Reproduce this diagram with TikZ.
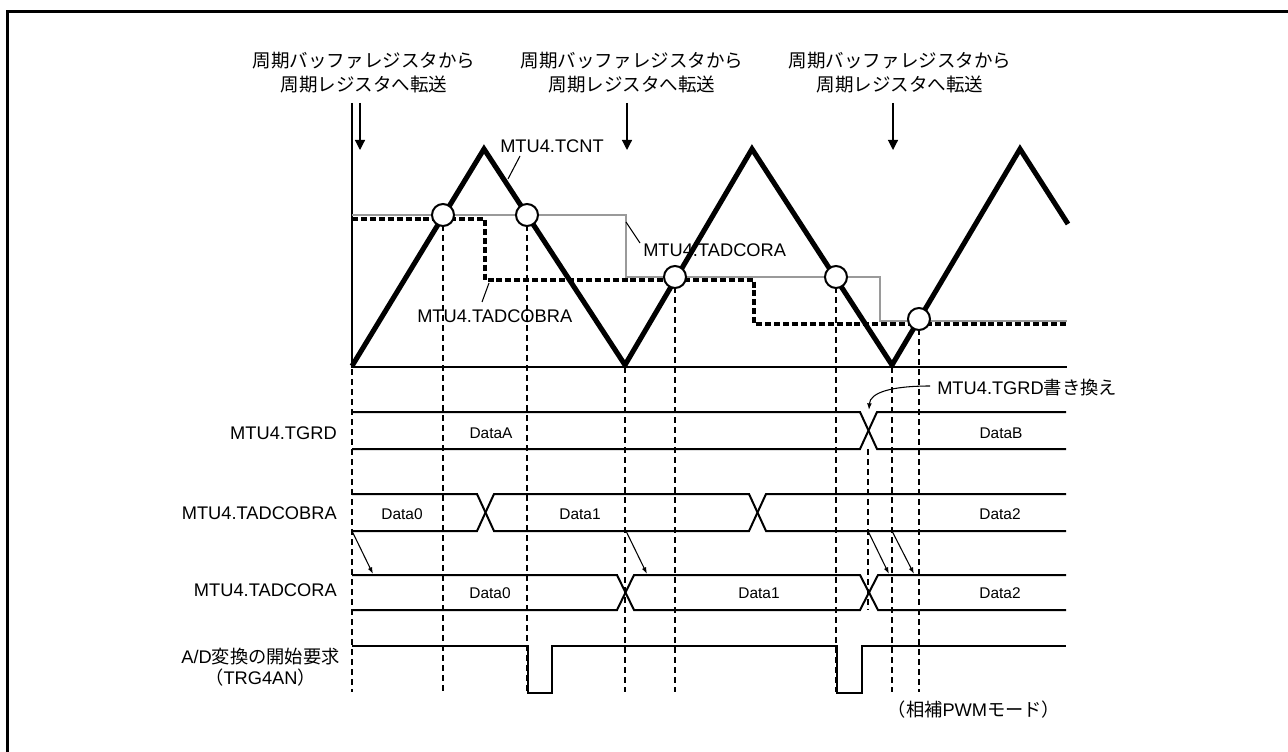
\documentclass[tikz,border=0pt]{standalone}
\usepackage{fontspec}
\setmainfont{Liberation Sans}
\newfontfamily\jp{Noto Sans CJK JP}
\usetikzlibrary{arrows.meta}
\definecolor{lgray}{HTML}{9A9A9A}
\begin{document}
\begin{tikzpicture}[x=0.75pt,y=-0.75pt,
  frameline/.style={line width=2.25pt},
  thinline/.style={line width=0.9pt},
  sig/.style={line width=1.5pt},
  wave/.style={line width=3.8pt,line join=miter},
  grayline/.style={line width=1.6pt,draw=lgray},
  dotline/.style={line width=2.6pt,dash pattern=on 4.5pt off 2.2pt},
  evt/.style={line width=0.9pt,dash pattern=on 4.5pt off 3pt},
  circ/.style={circle,draw,fill=white,line width=1.5pt,minimum size=16.5pt,inner sep=0pt},
  lbl/.style={inner sep=0pt,font=\fontsize{13.7}{16}\selectfont},
  dlbl/.style={inner sep=0pt,font=\fontsize{11.6}{14}\selectfont},
  captext/.style={inner sep=0pt,align=center,font=\jp\fontsize{13.9}{18}\selectfont},
  bigarrow/.style={thinline,-{Triangle[length=7.5pt,width=7.5pt]}},
  smallarrow/.style={line width=0.8pt,-{Latex[length=5pt,width=3.5pt]}},
  leader/.style={line width=0.8pt}]
\useasboundingbox (0,0) rectangle (1288,752);
% frame
\draw[frameline] (7.5,752) -- (7.5,11.5) -- (1288,11.5);

% captions
\node[captext] (c1) at (364,73) {周期バッファレジスタから\\周期レジスタへ転送};
\node[captext] (c2) at (632,73) {周期バッファレジスタから\\周期レジスタへ転送};
\node[captext] (c3) at (900,73) {周期バッファレジスタから\\周期レジスタへ転送};
\coordinate (a1s) at (360,103); \coordinate (a1e) at (360,150);
\coordinate (a2s) at (627,103); \coordinate (a2e) at (627,150);
\coordinate (a3s) at (893,103); \coordinate (a3e) at (893,150);
\draw[bigarrow] (a1s) -- (a1e);
\draw[bigarrow] (a2s) -- (a2e);
\draw[bigarrow] (a3s) -- (a3e);

% axes
\draw[thinline] (352,103) -- (352,367) -- (1067,367);

% event dashed lines
\foreach \xx/\yy/\ye in {352/219/692,443/215/692,527/215/692,625/367/692,675/277/692,836/277/692,892/367/692,919/319/692,868/449/610}
  \draw[evt] (\xx,\yy) -- (\xx,\ye);

% compare registers
\draw[grayline] (352,215) -- (626,215) -- (626,277) -- (880,277) -- (880,321) -- (1067,321);
\draw[dotline] (352,219) -- (485,219) -- (485,280) -- (754,280) -- (754,324) -- (1067,324);

% counter
\draw[wave] (352,366) -- (484,149) -- (625,365) -- (752,149) -- (892,365) -- (1020,149) -- (1068,224);

% compare match circles
\node[circ] (m1) at (443,215) {};
\node[circ] (m2) at (527,215) {};
\node[circ] (m3) at (675,277) {};
\node[circ] (m4) at (836,277) {};
\node[circ] (m5) at (919,319) {};

% graph labels
\node[lbl,anchor=west] (tcnt) at (500,146) {MTU4.TCNT};
\node[lbl,anchor=west] (tcora) at (643,250) {MTU4.TADCORA};
\node[lbl,anchor=west] (tcobra) at (417,316) {MTU4.TADCOBRA};
\draw[leader] (520,156) -- (508,179);
\draw[leader] (626,222) -- (640,243);
\draw[leader] (489,283) -- (482,302);

% row labels
\node[lbl,anchor=east] (r1) at (337,433) {MTU4.TGRD};
\node[lbl,anchor=east] (r2) at (337,513) {MTU4.TADCOBRA};
\node[lbl,anchor=east] (r3) at (337,590) {MTU4.TADCORA};
\node[lbl,anchor=east,align=center,font=\fontsize{13.7}{15.8}\selectfont] (r4) at (340,667) {A/D{\jp 変換の開始要求}\\{\jp （}TRG4AN{\jp ）}};

% TGRD row
\draw[sig] (352,412) -- (860,412) -- (877,449) -- (1066,449);
\draw[sig] (352,449) -- (860,449) -- (877,412) -- (1066,412);
\node[dlbl] (dA) at (491,433) {DataA};
\node[dlbl] (dB) at (1001,433) {DataB};

% TADCOBRA row
\draw[sig] (352,494) -- (477,494) -- (494,531) -- (749,531) -- (766,494) -- (1066,494);
\draw[sig] (352,531) -- (477,531) -- (494,494) -- (749,494) -- (766,531) -- (1066,531);
\node[dlbl] (b0) at (402,514) {Data0};
\node[dlbl] (b1) at (580,514) {Data1};
\node[dlbl] (b2) at (1000,514) {Data2};

% TADCORA row
\draw[sig] (352,575) -- (617,575) -- (634,610) -- (860,610) -- (878,575) -- (1066,575);
\draw[sig] (352,610) -- (617,610) -- (634,575) -- (860,575) -- (878,610) -- (1066,610);
\node[dlbl] (o0) at (490,593) {Data0};
\node[dlbl] (o1) at (759,593) {Data1};
\node[dlbl] (o2) at (1000,593) {Data2};

% transfer arrows
\draw[smallarrow] (352,531) -- (373,574);
\draw[smallarrow] (626,531) -- (647,574);
\draw[smallarrow] (868,531) -- (889,574);
\draw[smallarrow] (892,531) -- (914,574);

% A/D trigger
\draw[sig] (352,646) -- (528,646) -- (528,693) -- (552,693) -- (552,646) -- (837,646) -- (837,693) -- (862,693) -- (862,646) -- (1066,646);

% TGRD rewrite
\node[lbl,anchor=west] (rw) at (937,388) {MTU4.TGRD{\jp 書き換え}};
\draw[smallarrow] (930,386) .. controls (890,386) and (870,393) .. (869,410);

\node[lbl] (pwm) at (974,710) {{\jp （相補}PWM{\jp モード）}};
\end{tikzpicture}
\end{document}
